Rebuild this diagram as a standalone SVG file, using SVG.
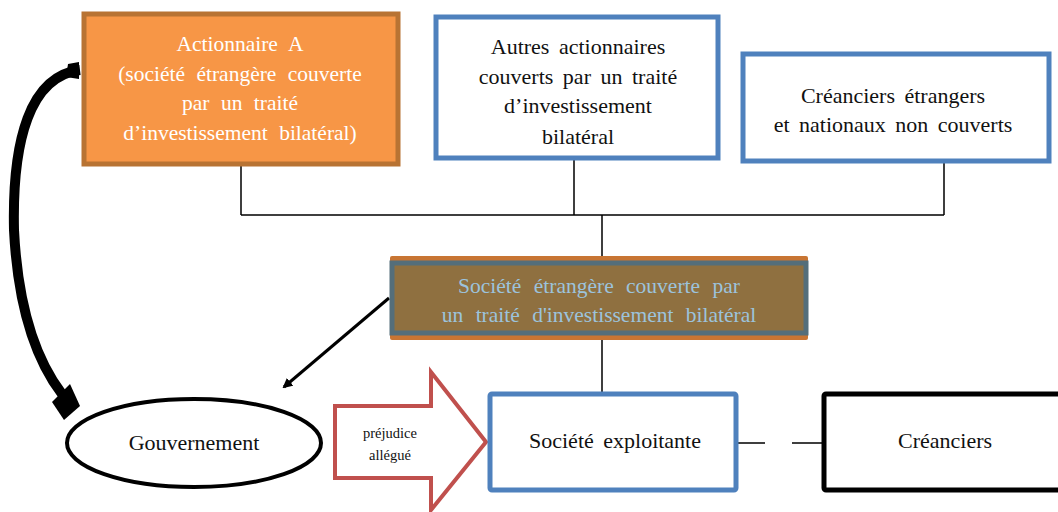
<svg xmlns="http://www.w3.org/2000/svg" width="1058" height="512" viewBox="0 0 1058 512">
<style>
text{font-family:"Liberation Serif","Times New Roman",serif;text-anchor:middle;word-spacing:4px}
.t{font-size:22px;fill:#111}
.w{font-size:21.5px;fill:#fff;word-spacing:6px}
.b{font-size:21.5px;fill:#9cc3dc;word-spacing:7px}
.blue{fill:#fff;stroke:#4f81bd;stroke-width:5}
.ln{stroke:#000;stroke-width:1.5;fill:none}
</style>
<defs>
<marker id="ah" markerWidth="10" markerHeight="10" refX="8" refY="5" orient="auto" markerUnits="userSpaceOnUse" viewBox="0 0 10 10">
<path d="M0,0 L10,5 L0,10 Z" fill="#000"/>
</marker>
</defs>
<g id="connectors">
<path class="ln" d="M241,166 V215 M574,160 V215 M944,163 V215 M241,215 H944 M602,215 V258 M602,340 V392 M738,443 H765 M792,443 H822"/>
<line x1="389" y1="298" x2="284" y2="387" stroke="#000" stroke-width="3" marker-end="url(#ah)"/>
<path d="M80,70 C30,76 12,140 14,230 C18,310 36,360 62,394" fill="none" stroke="#000" stroke-width="10"/>
<path d="M79,62 L79,79 L66,77 L68,64 Z" fill="#000"/>
<polygon points="52,402 70,384 80,406 64,420" fill="#000"/>
</g>
<g id="actionnaire">
<rect x="84" y="14" width="314" height="150" fill="#f79646" stroke="#b87333" stroke-width="5"/>
<text class="w" x="240" y="51">Actionnaire  A</text>
<text class="w" x="240" y="81">(société  étrangère  couverte</text>
<text class="w" x="240" y="110">par un traité</text>
<text class="w" x="240" y="140">d’investissement  bilatéral)</text>
</g>
<g id="autres">
<rect class="blue" x="436" y="17" width="282" height="141"/>
<text class="t" x="578" y="54">Autres  actionnaires</text>
<text class="t" x="578" y="84">couverts par un traité</text>
<text class="t" x="578" y="113">d’investissement</text>
<text class="t" x="578" y="144">bilatéral</text>
</g>
<g id="creanciers-etrangers">
<rect class="blue" x="743" y="54" width="306" height="107"/>
<text class="t" x="893" y="103">Créanciers  étrangers</text>
<text class="t" x="893" y="132">et nationaux  non couverts</text>
</g>
<g id="societe-etrangere">
<rect x="390" y="256" width="418" height="84" rx="2" fill="#c87533"/>
<rect x="392" y="261" width="414" height="74" fill="#f08a3c"/>
<rect x="392" y="263" width="414" height="70" fill="#8f7040" stroke="#546e7a" stroke-width="5"/>
<text class="b" x="599" y="293">Société  étrangère  couverte  par</text>
<text class="b" x="599" y="322">un traité d'investissement  bilatéral</text>
</g>
<g id="gouvernement">
<ellipse cx="194" cy="443" rx="127" ry="44" fill="#fff" stroke="#000" stroke-width="4"/>
<text class="t" x="194" y="450">Gouvernement</text>
</g>
<g id="prejudice">
<polygon points="335,406 431,406 431,372 486,442 431,510 431,478 335,478" fill="#fff" stroke="#c0504d" stroke-width="4"/>
<text x="390" y="438" style="font-size:14.5px;fill:#111;word-spacing:0">préjudice</text>
<text x="390" y="460" style="font-size:14.5px;fill:#111;word-spacing:0">allégué</text>
</g>
<g id="societe-exploitante">
<rect class="blue" x="490" y="394" width="246" height="96" rx="2"/>
<text class="t" x="615" y="448">Société  exploitante</text>
</g>
<g id="creanciers">
<rect x="824" y="394" width="240" height="96" rx="2" fill="#fff" stroke="#000" stroke-width="5"/>
<text class="t" x="945" y="448">Créanciers</text>
</g>
</svg>
